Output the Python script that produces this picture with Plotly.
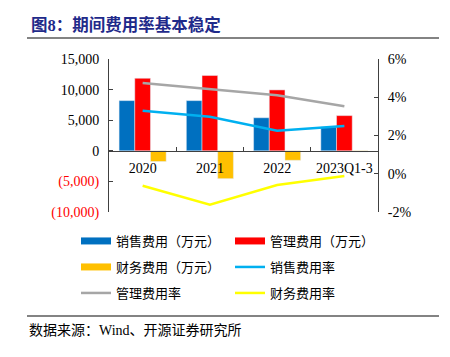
import plotly.graph_objects as go

categories = ["2020", "2021", "2022", "2023Q1-3"]
sales_exp = [8200, 8200, 5400, 3900]
admin_exp = [11850, 12300, 9950, 5750]
fin_exp = [-1750, -4550, -1550, -200]
sales_rate = [3.29, 2.98, 2.25, 2.50]
admin_rate = [4.75, 4.42, 4.10, 3.53]
fin_rate = [-0.63, -1.62, -0.59, -0.12]

left_tickvals = [15000, 10000, 5000, 0, -5000, -10000]
left_ticktext = ["15,000", "10,000", "5,000", "0",
                 "<span style='color:#FF0000'>(5,000)</span>",
                 "<span style='color:#FF0000'>(10,000)</span>"]
right_tickvals = [6, 4, 2, 0, -2]
right_ticktext = ["6%", "4%", "2%", "0%", "-2%"]

C_SALES = "#0070C0"
C_ADMIN = "#FF0000"
C_FIN = "#FFC000"
C_SALES_R = "#00B0F0"
C_ADMIN_R = "#A6A6A6"
C_FIN_R = "#FFFF00"

SERIF = "Liberation Serif, Noto Sans CJK SC"
AXC = "#404040"

W, H = 450, 357
L, R, T, B = 109, 72, 59, 145
PW, PH = W - L - R, H - T - B

def px(x):
    return (x - L) / PW

def py(y):
    return (H - B - y) / PH

fig = go.Figure()

fig.add_trace(go.Bar(x=categories, y=sales_exp, marker_color=C_SALES, showlegend=False, name="销售费用（万元）"))
fig.add_trace(go.Bar(x=categories, y=admin_exp, marker_color=C_ADMIN, showlegend=False, name="管理费用（万元）"))
fig.add_trace(go.Bar(x=categories, y=fin_exp, marker_color=C_FIN, showlegend=False, name="财务费用（万元）"))

fig.add_trace(go.Scatter(x=categories, y=sales_rate, yaxis="y2", mode="lines",
                         line=dict(color=C_SALES_R, width=2.5), showlegend=False, name="销售费用率"))
fig.add_trace(go.Scatter(x=categories, y=admin_rate, yaxis="y2", mode="lines",
                         line=dict(color=C_ADMIN_R, width=2.5), showlegend=False, name="管理费用率"))
fig.add_trace(go.Scatter(x=categories, y=fin_rate, yaxis="y2", mode="lines",
                         line=dict(color=C_FIN_R, width=2.5), showlegend=False, name="财务费用率"))

# legend proxies
legend_items = [
    ("销售费用（万元）", C_SALES, 7, "legend"),
    ("管理费用（万元）", C_ADMIN, 7, "legend"),
    ("财务费用（万元）", C_FIN, 7, "legend2"),
    ("销售费用率", C_SALES_R, 2.5, "legend2"),
    ("管理费用率", C_ADMIN_R, 2.5, "legend3"),
    ("财务费用率", C_FIN_R, 2.5, "legend3"),
]
for name, col, w, lg in legend_items:
    fig.add_trace(go.Scatter(x=[None], y=[None], mode="lines", name=name,
                             line=dict(color=col, width=w), legend=lg, hoverinfo="skip"))

leg_common = dict(orientation="h", xanchor="left", yanchor="middle",
                  entrywidth=109, entrywidthmode="pixels",
                  font=dict(family=SERIF, size=13, color="#000000"),
                  bgcolor="rgba(0,0,0,0)", itemwidth=30)

fig.update_layout(
    width=W, height=H,
    margin=dict(l=L, r=R, t=T, b=B, autoexpand=False),
    paper_bgcolor="white", plot_bgcolor="white",
    barmode="group", bargap=0.3, bargroupgap=0,
    xaxis=dict(type="category", anchor="free", position=0.4,
               showline=True, linecolor=AXC, linewidth=1,
               ticks="inside", ticklen=4, tickcolor=AXC, tickson="boundaries",
               showgrid=False, zeroline=False, ticklabelstandoff=4,
               tickfont=dict(family=SERIF, size=14, color="#000000")),
    yaxis=dict(range=[-10000, 15000], tickvals=left_tickvals, ticktext=left_ticktext,
               showline=True, linecolor=AXC, linewidth=1,
               ticks="inside", ticklen=4, tickcolor=AXC,
               showgrid=False, zeroline=False, ticklabelstandoff=6,
               tickfont=dict(family=SERIF, size=14, color="#000000")),
    yaxis2=dict(range=[-2, 6], overlaying="y", side="right",
                tickvals=right_tickvals, ticktext=right_ticktext,
                showline=True, linecolor=AXC, linewidth=1,
                ticks="inside", ticklen=4, tickcolor=AXC,
                showgrid=False, zeroline=False, ticklabelstandoff=6,
                tickfont=dict(family=SERIF, size=14, color="#000000")),
    legend=dict(x=px(76), y=py(241), **leg_common),
    legend2=dict(x=px(76), y=py(267), **leg_common),
    legend3=dict(x=px(76), y=py(293), **leg_common),
    showlegend=True,
)

# title and rules
fig.add_annotation(x=px(29), y=py(25), xref="paper", yref="paper",
                   text="<b>图8：期间费用率基本稳定</b>", showarrow=False,
                   xanchor="left", yanchor="middle",
                   font=dict(family="Liberation Serif, Noto Sans CJK SC", size=16.5, color="#1F2A8A"))
fig.add_annotation(x=px(27), y=py(330), xref="paper", yref="paper",
                   text="数据来源：Wind、开源证券研究所", showarrow=False,
                   xanchor="left", yanchor="middle",
                   font=dict(family=SERIF, size=14, color="#000000"))
fig.add_shape(type="line", xref="paper", yref="paper",
              x0=px(27), x1=px(439), y0=py(38), y1=py(38),
              line=dict(color="#5A5A5A", width=1.5))
fig.add_shape(type="line", xref="paper", yref="paper",
              x0=px(27), x1=px(439), y0=py(316), y1=py(316),
              line=dict(color="#5A5A5A", width=1.5))

fig.write_html("out.html", config={"displayModeBar": False},
               post_script="document.body.style.margin='0px';")
